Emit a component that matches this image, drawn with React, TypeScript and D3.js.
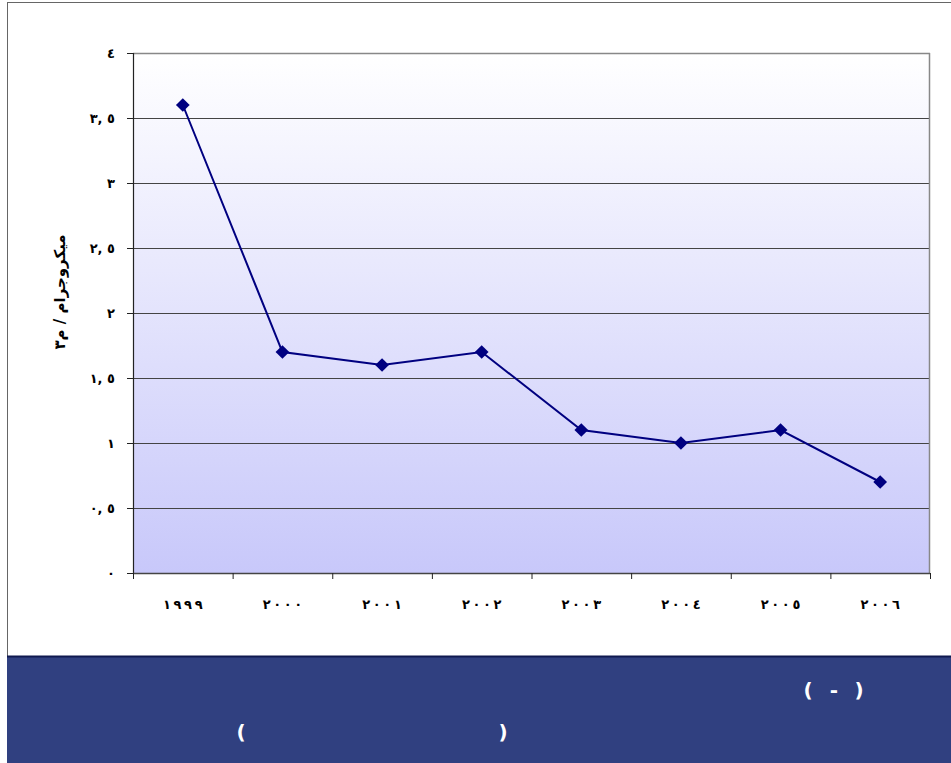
import React from "react";
import * as d3 from "d3";

const years = ["١٩٩٩", "٢٠٠٠", "٢٠٠١", "٢٠٠٢", "٢٠٠٣", "٢٠٠٤", "٢٠٠٥", "٢٠٠٦"];
const values = [3.6, 1.7, 1.6, 1.7, 1.1, 1.0, 1.1, 0.7];
const yTickValues = [0, 0.5, 1, 1.5, 2, 2.5, 3, 3.5, 4];
const yTickLabels = ["٠", "٠, ٥", "١", "١, ٥", "٢", "٢, ٥", "٣", "٣, ٥", "٤"];
const yTitle = "ميكروجرام / م٣";

const W = 951;
const H = 763;
const plot = { left: 133, right: 930, top: 53, bottom: 573 };

const spaced = (s: string) => Array.from(s).join("\u2009");

export default function App() {
  const x = d3.scaleBand<string>().domain(years).range([plot.left, plot.right]).padding(0);
  const y = d3.scaleLinear().domain([0, 4]).range([plot.bottom, plot.top]);
  const line = d3
    .line<number>()
    .x((_, i) => (x(years[i]) as number) + x.bandwidth() / 2)
    .y((d) => y(d));
  const diamond = d3.symbol().type(d3.symbolDiamond2).size(120)();
  const boundaries = years.map((yr) => x(yr) as number).concat([plot.right]);
  const font = "'DejaVu Sans', sans-serif";
  const ltr: React.CSSProperties = { direction: "ltr", unicodeBidi: "bidi-override" };

  return (
    <svg
      width={W}
      height={H}
      style={{ position: "absolute", left: 0, top: 0, background: "#fff" }}
    >
      <defs>
        <linearGradient id="bg" x1="0" y1="0" x2="0" y2="1">
          <stop offset="0" stopColor="#ffffff" />
          <stop offset="1" stopColor="#c8c8fa" />
        </linearGradient>
      </defs>
      {/* outer frame */}
      <rect x={7.5} y={2.5} width={W} height={H} fill="#fff" stroke="#666" strokeWidth={1} />
      {/* plot area */}
      <rect
        x={plot.left}
        y={plot.top}
        width={plot.right - plot.left}
        height={plot.bottom - plot.top}
        fill="url(#bg)"
      />
      {/* grid lines */}
      {yTickValues
        .filter((v) => v > 0 && v < 4)
        .map((v) => (
          <line
            key={v}
            x1={plot.left}
            x2={plot.right}
            y1={Math.round(y(v)) + 0.5}
            y2={Math.round(y(v)) + 0.5}
            stroke="#444"
            strokeWidth={1}
          />
        ))}
      {/* plot border top/right */}
      <line x1={plot.left} x2={plot.right} y1={plot.top + 0.5} y2={plot.top + 0.5} stroke="#888" strokeWidth={1.5} />
      <line x1={plot.right - 0.5} x2={plot.right - 0.5} y1={plot.top} y2={plot.bottom} stroke="#888" strokeWidth={1.5} />
      {/* axes */}
      <line x1={plot.left + 0.5} x2={plot.left + 0.5} y1={plot.top} y2={plot.bottom} stroke="#222" strokeWidth={1.2} />
      <line x1={plot.left} x2={plot.right} y1={plot.bottom + 0.5} y2={plot.bottom + 0.5} stroke="#444" strokeWidth={1.5} />
      {/* y ticks and labels */}
      {yTickValues.map((v, i) => (
        <g key={v}>
          <line
            x1={plot.left - 6}
            x2={plot.left}
            y1={Math.round(y(v)) + 0.5}
            y2={Math.round(y(v)) + 0.5}
            stroke="#222"
          />
          <text
            x={115}
            y={y(v)}
            dy="0.35em"
            textAnchor="end"
            fontFamily={font}
            fontWeight="bold"
            fontSize={13}
            style={ltr}
            fill="#000"
          >
            {yTickLabels[i]}
          </text>
        </g>
      ))}
      {/* x ticks */}
      {boundaries.map((b, i) => (
        <line key={i} x1={b + 0.5} x2={b + 0.5} y1={plot.bottom} y2={plot.bottom + 6} stroke="#222" />
      ))}
      {/* x labels */}
      {years.map((yr) => (
        <text
          key={yr}
          x={(x(yr) as number) + x.bandwidth() / 2}
          y={604}
          dy="0.35em"
          textAnchor="middle"
          fontFamily={font}
          fontWeight="bold"
          fontSize={13}
          style={ltr}
          fill="#000"
        >
          {spaced(yr)}
        </text>
      ))}
      {/* y title */}
      <text
        transform={`translate(60,292) rotate(-90)`}
        textAnchor="middle"
        dy="0.35em"
        fontFamily={font}
        fontWeight="bold"
        fontSize={15}
        fill="#000"
      >
        {yTitle}
      </text>
      {/* series */}
      <path d={line(values) || ""} fill="none" stroke="#000080" strokeWidth={2} />
      {values.map((v, i) => (
        <path
          key={i}
          d={diamond || ""}
          transform={`translate(${(x(years[i]) as number) + x.bandwidth() / 2},${y(v)})`}
          fill="#000080"
        />
      ))}
      {/* bottom banner */}
      <rect x={7} y={656} width={W - 7} height={H - 656} fill="#304080" />
      <line x1={7} x2={W} y1={656.5} y2={656.5} stroke="#101a50" strokeWidth={2} />
      <text x={808} y={690} dy="0.35em" fontFamily={font} fontWeight="bold" fontSize={20} fill="#fff" textAnchor="middle">(</text>
      <text x={834} y={690} dy="0.35em" fontFamily={font} fontWeight="bold" fontSize={20} fill="#fff" textAnchor="middle">-</text>
      <text x={859} y={690} dy="0.35em" fontFamily={font} fontWeight="bold" fontSize={20} fill="#fff" textAnchor="middle">)</text>
      <text x={241} y={732} dy="0.35em" fontFamily={font} fontWeight="bold" fontSize={20} fill="#fff" textAnchor="middle">(</text>
      <text x={503} y={732} dy="0.35em" fontFamily={font} fontWeight="bold" fontSize={20} fill="#fff" textAnchor="middle">)</text>
    </svg>
  );
}
